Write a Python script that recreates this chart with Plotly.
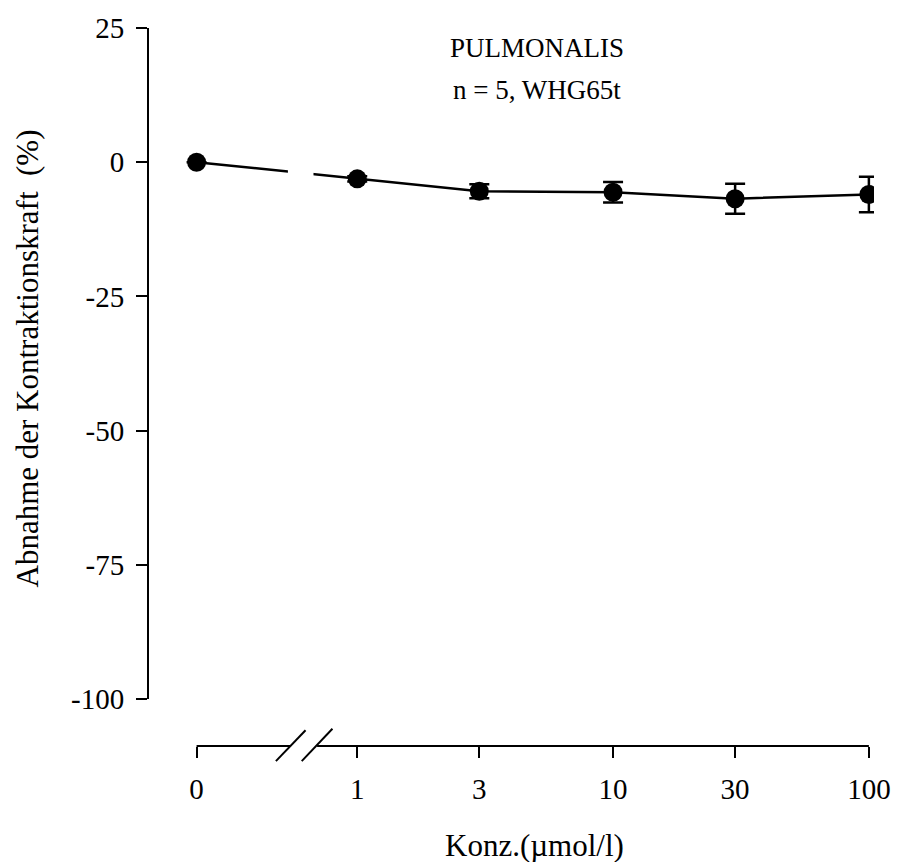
import numpy as np
import plotly.graph_objects as go

# ---- data ----
conc_labels = ["0", "1", "3", "10", "30", "100"]
conc = [0, 1, 3, 10, 30, 100]
mean_pct = [0.0, -3.1, -5.4, -5.6, -6.8, -6.0]
sem_pct = [0.0, 0.5, 1.3, 1.9, 2.8, 3.3]
y_ticks = [25, 0, -25, -50, -75, -100]

# position used for the "0" concentration on the log scale (axis break)
ZERO_POS = -0.628
xpos = [ZERO_POS if c == 0 else float(np.log10(c)) for c in conc]

FONT = "Liberation Serif"
BLACK = "black"

fig = go.Figure()

# connecting line
fig.add_trace(go.Scatter(
    x=xpos, y=mean_pct, mode="lines",
    line=dict(color=BLACK, width=2.5), hoverinfo="skip", showlegend=False,
))
# points with error bars
fig.add_trace(go.Scatter(
    x=xpos, y=mean_pct, mode="markers",
    marker=dict(color=BLACK, size=19, symbol="circle"),
    error_y=dict(type="data", array=sem_pct, visible=True,
                 color=BLACK, thickness=2.5, width=10),
    showlegend=False,
))

# axis break geometry (log units)
gap_a, gap_b = -0.262, -0.157
shapes = [
    # mask the connecting line across the break
    dict(type="rect", xref="x", yref="y", x0=-0.271, x1=-0.171, y0=-4.0, y1=-0.5,
         fillcolor="white", line=dict(width=0), layer="above"),
    # x axis line in two parts
    dict(type="line", xref="x", yref="paper", x0=ZERO_POS, x1=gap_a, y0=0, y1=0,
         line=dict(color=BLACK, width=2)),
    dict(type="line", xref="x", yref="paper", x0=gap_b, x1=2.0, y0=0, y1=0,
         line=dict(color=BLACK, width=2)),
    # break slashes
    dict(type="line", xref="x", yref="paper", x0=-0.318, x1=-0.202, y0=-0.021, y1=0.022,
         line=dict(color=BLACK, width=2)),
    dict(type="line", xref="x", yref="paper", x0=-0.217, x1=-0.097, y0=-0.021, y1=0.024,
         line=dict(color=BLACK, width=2)),
]

fig.update_layout(
    width=903, height=862,
    margin=dict(l=149, r=23, t=26, b=116),
    paper_bgcolor="white", plot_bgcolor="white",
    font=dict(family=FONT, size=26, color=BLACK),
    shapes=shapes,
    xaxis=dict(
        range=[-0.814, 2.02], anchor="free", position=0,
        showline=False, showgrid=False, zeroline=False,
        tickmode="array", tickvals=xpos, ticktext=conc_labels,
        ticks="outside", ticklen=11, tickwidth=2, tickcolor=BLACK,
        ticklabelstandoff=6,
        tickfont=dict(family=FONT, size=29, color=BLACK),
    ),
    yaxis=dict(
        domain=[0.0653, 1], range=[-100, 25],
        showline=True, linewidth=2, linecolor=BLACK,
        showgrid=False, zeroline=False,
        tickmode="array", tickvals=y_ticks, ticktext=[str(v) for v in y_ticks],
        ticks="outside", ticklen=11, tickwidth=2, tickcolor=BLACK,
        ticklabelstandoff=6,
        tickfont=dict(family=FONT, size=29, color=BLACK),
    ),
    annotations=[
        dict(text="PULMONALIS", xref="paper", yref="paper", x=0.535, y=0.972,
             showarrow=False, font=dict(family=FONT, size=27, color=BLACK),
             xanchor="center", yanchor="middle"),
        dict(text="n = 5, WHG65t", xref="paper", yref="paper", x=0.535, y=0.913,
             showarrow=False, font=dict(family=FONT, size=27, color=BLACK),
             xanchor="center", yanchor="middle"),
        dict(text="Konz.(µmol/l)", xref="paper", yref="paper", x=0.532, y=-0.138,
             showarrow=False, font=dict(family=FONT, size=31, color=BLACK),
             xanchor="center", yanchor="middle"),
        dict(text="Abnahme der Kontraktionskraft  (%)", xref="paper", yref="paper",
             x=-0.168, y=0.54, textangle=-90,
             showarrow=False, font=dict(family=FONT, size=31, color=BLACK),
             xanchor="center", yanchor="middle"),
    ],
)

fig.write_html("out.html")
